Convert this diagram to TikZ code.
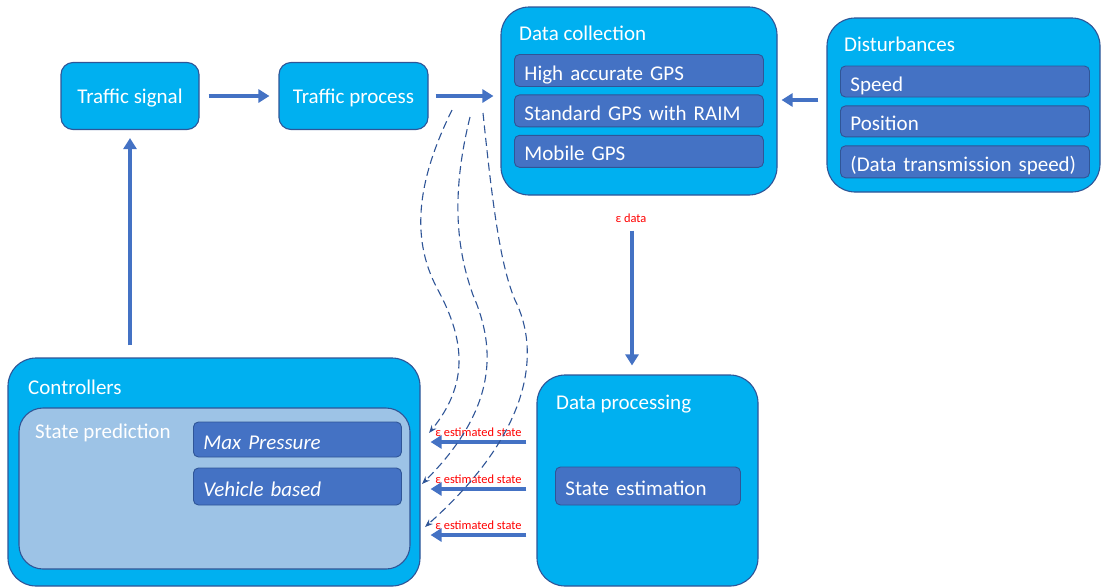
\documentclass[tikz,border=0pt]{standalone}
\usepackage{fontspec}
\setmainfont{Carlito}
\usepackage{xcolor}
\usepackage{tikz}
\usetikzlibrary{shapes, arrows.meta, positioning}

\definecolor{boxcyan}{HTML}{00B0F0}
\definecolor{edgeblue}{HTML}{2F5597}
\definecolor{subblue}{HTML}{4472C4}
\definecolor{lightblue}{HTML}{9DC3E6}
\definecolor{flowblue}{HTML}{4472C4}

\begin{document}
\begin{tikzpicture}[x=1pt, y=-1pt,
    every node/.style={font=\fontsize{21}{24}\selectfont, text=white},
    bigbox/.style={draw=edgeblue, line width=1.1pt, fill=boxcyan, rounded corners=28pt},
    smallbox/.style={draw=edgeblue, line width=1.1pt, fill=boxcyan, rounded corners=12pt,
        text height=17pt, text depth=3pt},
    subbox/.style={draw=edgeblue, line width=0.9pt, fill=subblue, rounded corners=5pt,
        anchor=west, align=left, inner xsep=10pt, inner ysep=0pt,
        text height=21pt, text depth=2pt},
    title/.style={anchor=west, inner sep=0pt},
    flow/.style={draw=flowblue, line width=3.2pt, -{Triangle[length=11pt, width=13pt]}},
    dashflow/.style={draw=edgeblue, line width=1.1pt, dash pattern=on 8pt off 4.5pt,
        -{Stealth[length=8pt, width=6pt]}},
    eps/.style={text=red, font=\fontsize{12.4}{14}\selectfont, inner sep=1pt}]

    \useasboundingbox (0,0) rectangle (1102,587);

    % top row
    \node[smallbox, minimum width=138pt, minimum height=67pt] (tsig) at (130,96) {Traffic signal};
    \node[smallbox, minimum width=149pt, minimum height=67pt] (tproc) at (353.5,96) {Traffic process};

    % data collection
    \node[bigbox, minimum width=276pt, minimum height=188pt] (dcol) at (639,101) {};
    \node[title] (dcoltitle) at (519,33) {Data collection};
    \node[subbox, minimum width=249pt, minimum height=32pt, text width=229pt] (hgps) at (514,70.5) {High accurate GPS};
    \node[subbox, minimum width=249pt, minimum height=32pt, text width=229pt, below=7.5pt of hgps.south west, anchor=north west] (sgps) {Standard GPS with RAIM};
    \node[subbox, minimum width=249pt, minimum height=32pt, text width=229pt, below=7.5pt of sgps.south west, anchor=north west] (mgps) {Mobile GPS};

    % disturbances
    \node[bigbox, minimum width=273pt, minimum height=174pt] (dist) at (963.5,105) {};
    \node[title] (disttitle) at (844,44) {Disturbances};
    \node[subbox, minimum width=249pt, minimum height=31pt, text width=229pt] (speed) at (840,81.5) {Speed};
    \node[subbox, minimum width=249pt, minimum height=31pt, text width=229pt, below=8pt of speed.south west, anchor=north west] (pos) {Position};
    \node[subbox, minimum width=249pt, minimum height=32pt, text width=229pt, below=8pt of pos.south west, anchor=north west] (dts) {(Data transmission speed)};

    % data processing
    \node[bigbox, minimum width=221pt, minimum height=211pt] (dproc) at (647.5,480.5) {};
    \node[title] (dproctitle) at (556,404) {Data processing};
    \node[subbox, minimum width=185pt, minimum height=38pt, text width=165pt] (sest) at (555,486) {State estimation};

    % controllers
    \node[bigbox, minimum width=412pt, minimum height=228pt] (ctrl) at (214,472) {};
    \node[title] (ctrltitle) at (28,387) {Controllers};
    \node[draw=edgeblue, line width=1.1pt, fill=lightblue, rounded corners=24pt,
        minimum width=391pt, minimum height=161pt] (spred) at (214.5,488.5) {};
    \node[title] (spredtitle) at (35,433) {State prediction};
    \node[subbox, minimum width=208pt, minimum height=35pt, text width=188pt] (maxp) at (193,439.5) {\itshape Max Pressure};
    \node[subbox, minimum width=208pt, minimum height=37pt, text width=188pt] (vehb) at (193,486.5) {\itshape Vehicle based};

    % connectors
    \draw[flow, shorten <=9pt, shorten >=9pt] (tsig) -- (tproc);
    \draw[flow, shorten <=7pt, shorten >=7pt] (tproc.east) -- (tproc.east -| dcol.west);
    \draw[flow, shorten <=8pt, shorten >=4pt] (dist.west |- 0,100) -- (dcol.east |- 0,100);
    \node[eps] (epsdata) at (631,218) {ε data};
    \draw[flow, shorten <=35pt, shorten >=9pt] (632,0 |- dcol.south) -- (632,0 |- dproc.north);
    \draw[flow, shorten <=12pt, shorten >=8pt] (ctrl.north -| tsig) -- (tsig.south);

    \draw[flow, shorten <=10pt, shorten >=10pt] (dproc.west |- 0,442) -- node[eps, above=3pt] {ε estimated state} (ctrl.east |- 0,442);
    \draw[flow, shorten <=10pt, shorten >=10pt] (dproc.west |- 0,489) -- node[eps, above=3pt] {ε estimated state} (ctrl.east |- 0,489);
    \draw[flow, shorten <=10pt, shorten >=10pt] (dproc.west |- 0,535) -- node[eps, above=3pt] {ε estimated state} (ctrl.east |- 0,535);

    % dashed feedback
    \coordinate (d1s) at (452,110);
    \coordinate (d2s) at (470,117);
    \coordinate (d3s) at (483,113);
    \coordinate (d1e) at (429,433);
    \coordinate (d2e) at (422,484);
    \coordinate (d3e) at (425,527);
    \draw[dashflow] (d1s) .. controls (420,175) and (408,235) .. (438,290) .. controls (466,342) and (468,385) .. (d1e);
    \draw[dashflow] (d2s) .. controls (452,190) and (455,245) .. (473,295) .. controls (497,350) and (496,410) .. (d2e);
    \draw[dashflow] (d3s) .. controls (492,200) and (500,265) .. (515,300) .. controls (540,350) and (534,430) .. (d3e);
\end{tikzpicture}
\end{document}
